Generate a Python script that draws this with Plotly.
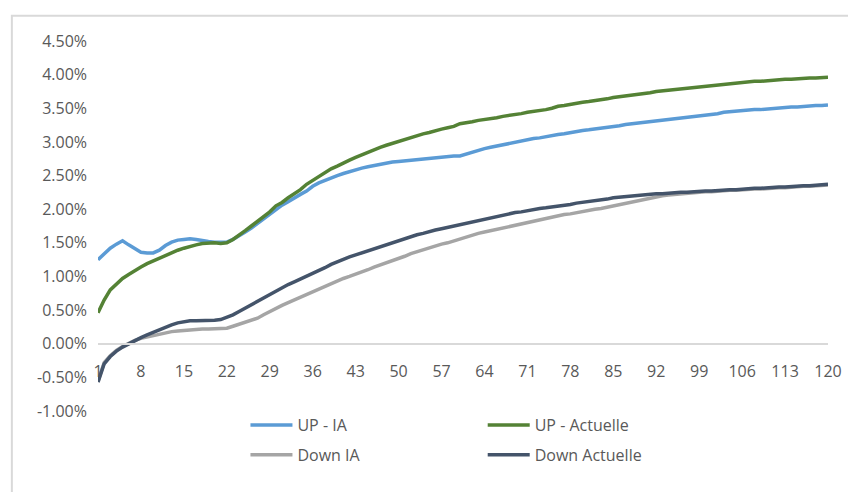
import plotly.graph_objects as go

days = list(range(1, 121))

up_ia = [1.25, 1.33, 1.42, 1.48, 1.53, 1.47, 1.41, 1.36, 1.35, 1.35,
         1.39, 1.46, 1.51, 1.54, 1.55, 1.56, 1.55, 1.53, 1.52, 1.51,
         1.51, 1.51, 1.55, 1.60, 1.66, 1.72, 1.79, 1.86, 1.93, 2.00,
         2.06, 2.11, 2.17, 2.22, 2.27, 2.34, 2.39, 2.43, 2.47, 2.50,
         2.53, 2.56, 2.59, 2.61, 2.63, 2.65, 2.67, 2.68, 2.70, 2.71,
         2.72, 2.73, 2.74, 2.75, 2.76, 2.77, 2.78, 2.78, 2.79, 2.79,
         2.82, 2.85, 2.88, 2.90, 2.92, 2.94, 2.96, 2.98, 3.00, 3.02,
         3.03, 3.05, 3.06, 3.08, 3.09, 3.11, 3.12, 3.14, 3.15, 3.17,
         3.18, 3.19, 3.20, 3.22, 3.23, 3.24, 3.26, 3.27, 3.28, 3.29,
         3.31, 3.32, 3.33, 3.34, 3.35, 3.36, 3.37, 3.38, 3.39, 3.40,
         3.41, 3.42, 3.44, 3.45, 3.45, 3.46, 3.47, 3.48, 3.48, 3.49,
         3.50, 3.50, 3.51, 3.52, 3.52, 3.53, 3.53, 3.54, 3.54, 3.55]

up_actuelle = [0.46, 0.65, 0.80, 0.89, 0.97, 1.03, 1.09, 1.14, 1.19, 1.23,
               1.28, 1.32, 1.36, 1.39, 1.42, 1.45, 1.47, 1.49, 1.50, 1.50,
               1.49, 1.50, 1.55, 1.61, 1.68, 1.75, 1.82, 1.89, 1.96, 2.05,
               2.10, 2.17, 2.23, 2.29, 2.37, 2.43, 2.49, 2.55, 2.60, 2.64,
               2.69, 2.73, 2.77, 2.81, 2.85, 2.88, 2.92, 2.95, 2.98, 3.01,
               3.04, 3.07, 3.09, 3.12, 3.14, 3.17, 3.19, 3.21, 3.23, 3.27,
               3.28, 3.30, 3.32, 3.33, 3.35, 3.36, 3.38, 3.39, 3.41, 3.42,
               3.44, 3.45, 3.47, 3.48, 3.50, 3.53, 3.54, 3.56, 3.57, 3.59,
               3.60, 3.61, 3.63, 3.64, 3.66, 3.67, 3.68, 3.69, 3.71, 3.72,
               3.73, 3.75, 3.76, 3.77, 3.78, 3.79, 3.80, 3.81, 3.82, 3.83,
               3.84, 3.85, 3.86, 3.87, 3.87, 3.88, 3.89, 3.90, 3.90, 3.91,
               3.92, 3.92, 3.93, 3.93, 3.94, 3.94, 3.95, 3.95, 3.96, 3.96]

down_ia = [-0.56, -0.28, -0.18, -0.10, -0.04, 0.01, 0.05, 0.08, 0.10, 0.13,
           0.15, 0.17, 0.18, 0.19, 0.20, 0.21, 0.21, 0.22, 0.22, 0.22,
           0.23, 0.23, 0.26, 0.29, 0.32, 0.35, 0.38, 0.43, 0.48, 0.53,
           0.57, 0.61, 0.65, 0.69, 0.73, 0.77, 0.81, 0.86, 0.90, 0.93,
           0.97, 1.00, 1.03, 1.07, 1.10, 1.14, 1.17, 1.20, 1.24, 1.27,
           1.30, 1.34, 1.37, 1.40, 1.42, 1.45, 1.48, 1.50, 1.53, 1.56,
           1.58, 1.61, 1.64, 1.66, 1.68, 1.70, 1.72, 1.75, 1.77, 1.79,
           1.81, 1.83, 1.85, 1.86, 1.88, 1.90, 1.92, 1.93, 1.95, 1.96,
           1.98, 2.00, 2.01, 2.03, 2.04, 2.06, 2.09, 2.11, 2.13, 2.15,
           2.17, 2.19, 2.20, 2.21, 2.22, 2.23, 2.24, 2.25, 2.25, 2.26,
           2.26, 2.27, 2.27, 2.28, 2.28, 2.29, 2.29, 2.30, 2.30, 2.31,
           2.31, 2.32, 2.32, 2.33, 2.33, 2.34, 2.34, 2.35, 2.35, 2.36]

down_actuelle = [-0.57, -0.30, -0.19, -0.11, -0.05, 0.00, 0.05, 0.09, 0.13, 0.17,
                 0.21, 0.25, 0.28, 0.31, 0.33, 0.34, 0.34, 0.34, 0.35, 0.35,
                 0.36, 0.39, 0.43, 0.48, 0.53, 0.58, 0.63, 0.69, 0.74, 0.79,
                 0.84, 0.88, 0.92, 0.96, 1.00, 1.04, 1.08, 1.13, 1.18, 1.22,
                 1.26, 1.29, 1.32, 1.35, 1.39, 1.42, 1.45, 1.48, 1.51, 1.54,
                 1.57, 1.59, 1.62, 1.64, 1.67, 1.69, 1.71, 1.73, 1.75, 1.77,
                 1.79, 1.81, 1.84, 1.86, 1.87, 1.89, 1.91, 1.93, 1.95, 1.96,
                 1.98, 1.99, 2.01, 2.02, 2.03, 2.04, 2.06, 2.07, 2.09, 2.10,
                 2.11, 2.13, 2.14, 2.15, 2.17, 2.18, 2.19, 2.20, 2.21, 2.22,
                 2.22, 2.23, 2.23, 2.24, 2.24, 2.25, 2.25, 2.26, 2.26, 2.27,
                 2.27, 2.28, 2.28, 2.29, 2.29, 2.30, 2.30, 2.31, 2.31, 2.32,
                 2.32, 2.33, 2.33, 2.34, 2.34, 2.35, 2.35, 2.36, 2.36, 2.37]

y_tick_vals = [-1.0, -0.5, 0.0, 0.5, 1.0, 1.5, 2.0, 2.5, 3.0, 3.5, 4.0, 4.5]
y_tick_text = ['-1.00%', '-0.50%', '0.00%', '0.50%', '1.00%', '1.50%',
               '2.00%', '2.50%', '3.00%', '3.50%', '4.00%', '4.50%']

grey_text = '#595959'
font_family = 'Open Sans, sans-serif'

fig = go.Figure()
fig.add_trace(go.Scatter(x=days, y=up_ia, mode='lines', name='UP - IA', legend='legend',
                         legendgroup='a', line=dict(color='#5B9BD5', width=3.5)))
fig.add_trace(go.Scatter(x=days, y=down_ia, mode='lines', name='Down IA', legend='legend',
                         legendgroup='b', line=dict(color='#A5A5A5', width=3.5)))
fig.add_trace(go.Scatter(x=days, y=up_actuelle, mode='lines', name='UP - Actuelle', legend='legend2',
                         legendgroup='c', line=dict(color='#548235', width=3.5)))
fig.add_trace(go.Scatter(x=days, y=down_actuelle, mode='lines', name='Down Actuelle', legend='legend2',
                         legendgroup='d', line=dict(color='#44546A', width=3.5)))

legend_style = dict(font=dict(family=font_family, size=16, color=grey_text),
                    bgcolor='rgba(0,0,0,0)', tracegroupgap=6, itemwidth=42,
                    xanchor='left', yanchor='top', y=0.008)

fig.update_layout(
    width=848, height=492,
    margin=dict(l=98, r=20, t=41, b=81, autoexpand=False),
    paper_bgcolor='white', plot_bgcolor='white',
    font=dict(family=font_family, size=16, color=grey_text),
    legend=dict(x=0.202, **legend_style),
    legend2=dict(x=0.527, **legend_style),
    # light chart border on the left and top edges
    shapes=[dict(type='rect', xref='paper', yref='paper', x0=-0.118, x1=1.2, y0=-0.3, y1=1.068,
                 line=dict(color='#D9D9D9', width=2), layer='below')],
)

# x axis sits on the zero line
fig.update_xaxes(range=[1, 120], tick0=1, dtick=7, showgrid=False, zeroline=False,
                 showline=True, linecolor='#D9D9D9', linewidth=1.5,
                 anchor='free', position=1 / 5.5, ticks='', ticklabelstandoff=13,
                 tickfont=dict(size=16, color=grey_text))
fig.update_yaxes(range=[-1, 4.5], tickvals=y_tick_vals, ticktext=y_tick_text,
                 showgrid=False, zeroline=False, showline=False, ticks='',
                 ticklabelstandoff=10, tickfont=dict(size=16, color=grey_text))

# drop the default page margin so the figure fills the window
fig.write_html("out.html", config={'displayModeBar': False},
               post_script="document.body.style.margin='0';")
